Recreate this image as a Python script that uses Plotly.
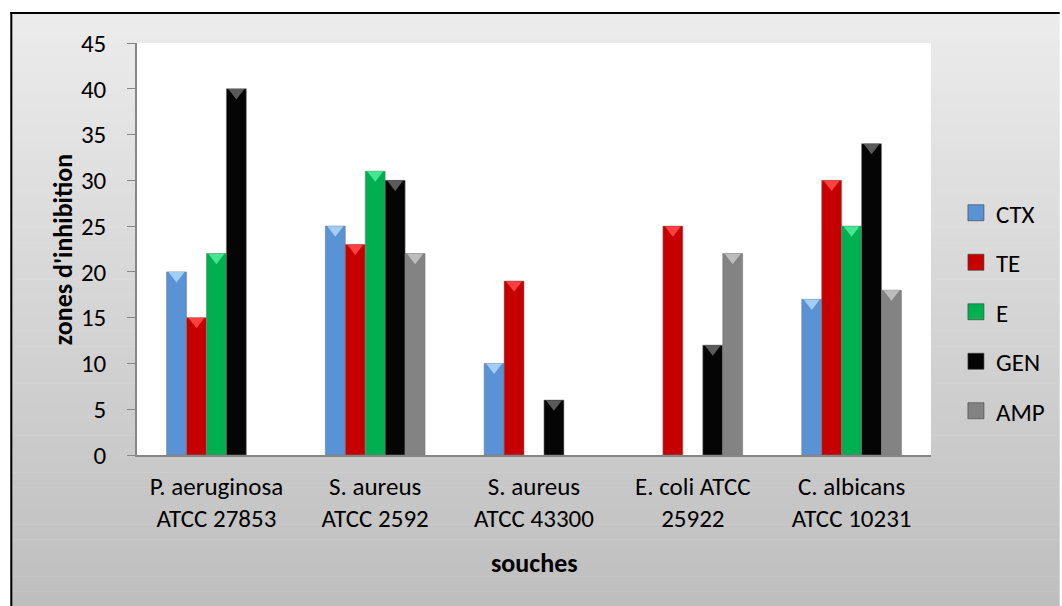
import plotly.graph_objects as go

# Données : diamètres des zones d'inhibition par souche et antibiotique
souches = [
    "P. aeruginosa<br>ATCC 27853",
    "S. aureus<br>ATCC 2592",
    "S. aureus<br>ATCC 43300",
    "E. coli ATCC<br>25922",
    "C. albicans<br>ATCC 10231",
]
ctx = [20, 25, 10, None, 17]
te = [15, 23, 19, 25, 30]
e = [22, 31, None, None, 25]
gen = [40, 30, 6, 12, 34]
amp = [None, 22, None, 22, 18]

antibiotiques = ["CTX", "TE", "E", "GEN", "AMP"]
series = [ctx, te, e, gen, amp]
y_ticks = [0, 5, 10, 15, 20, 25, 30, 35, 40, 45]

couleurs = ["#5a92d6", "#c60000", "#00b050", "#050505", "#838383"]
reflets = ["#a2cdf6", "#ff4040", "#46e592", "#5a5a5a", "#bdbdbd"]

W, H = 1062, 606
L, R, T, B = 137, 129, 43, 151
plot_w, plot_h = W - L - R, H - T - B
FONT = "Carlito, Calibri, Lato, sans-serif"
BAR_GAP = 0.372


def px_x(px):
    return (px - L) / plot_w


def px_y(py):
    return (H - B - py) / plot_h


fig = go.Figure()

# Barres groupées
for nom, vals, c in zip(antibiotiques, series, couleurs):
    fig.add_trace(go.Bar(
        x=souches, y=vals, name=nom, showlegend=False,
        marker=dict(color=c, line=dict(color="rgba(120,120,120,0.55)", width=1)),
        hoverinfo="skip",
    ))

# Biseau clair en haut de chaque barre
dip = 0.4
for nom, vals, c in zip(antibiotiques, series, reflets):
    fig.add_trace(go.Scatter(
        x=souches, y=[None if v is None else v - dip for v in vals],
        mode="markers", showlegend=False, hoverinfo="skip", cliponaxis=False,
        marker=dict(symbol="triangle-down", size=14, color=c, line=dict(width=0)),
    ))

# Entrées de légende (carrés)
for i, (nom, c) in enumerate(zip(antibiotiques, couleurs)):
    fig.add_trace(go.Scatter(
        x=[None], y=[None], name=nom, mode="markers", xaxis="x2", yaxis="y2",
        legendgroup=nom,
        marker=dict(symbol="square", size=16, color=c,
                    line=dict(color="rgba(60,60,60,0.6)", width=1)),
    ))

# Fond dégradé du graphique
shapes = []
top_px, n = 12, 80
for k in range(n):
    y0 = top_px + (H - top_px) * k / n
    y1 = top_px + (H - top_px) * (k + 1) / n
    t = (k + 0.5) / n
    g = round(236 - (236 - 190) * t)
    shapes.append(dict(type="rect", xref="paper", yref="paper", layer="below",
                       x0=px_x(10), x1=px_x(W), y0=px_y(y1 + 0.5), y1=px_y(y0),
                       fillcolor=f"rgb({g},{g},{g})", line=dict(width=0)))
# Zone de tracé blanche
shapes.append(dict(type="rect", xref="x domain", yref="y domain", layer="below",
                   x0=0, x1=1, y0=0, y1=1, fillcolor="white", line=dict(width=0)))
# Cadre
shapes.append(dict(type="line", xref="paper", yref="paper", x0=px_x(11), x1=px_x(11),
                   y0=px_y(12), y1=px_y(H), line=dict(color="black", width=2)))
shapes.append(dict(type="line", xref="paper", yref="paper", x0=px_x(10), x1=px_x(W),
                   y0=px_y(13), y1=px_y(13), line=dict(color="black", width=2)))

fig.update_layout(
    width=W, height=H,
    margin=dict(l=L, r=R, t=T, b=B, pad=0),
    paper_bgcolor="white", plot_bgcolor="white",
    barmode="group", bargap=BAR_GAP, bargroupgap=0,
    scattermode="group", scattergap=BAR_GAP,
    font=dict(family=FONT, size=25, color="black"),
    shapes=shapes,
    showlegend=True,
    legend=dict(x=px_x(958), xanchor="left", y=px_y(312), yanchor="middle",
                bgcolor="rgba(0,0,0,0)", font=dict(size=25, family=FONT),
                tracegroupgap=14, itemwidth=30),
    xaxis=dict(type="category", showgrid=False, showline=True, linecolor="#868686",
               linewidth=1.5, ticks="", ticklabelstandoff=8, zeroline=False,
               tickfont=dict(size=25)),
    yaxis=dict(range=[0, 45], tickvals=y_ticks, showgrid=False, showline=True,
               linecolor="#868686", linewidth=1.5, ticks="outside", ticklen=8,
               tickcolor="#868686", ticklabelstandoff=16, zeroline=False,
               tickfont=dict(size=25)),
    xaxis2=dict(overlaying="x", visible=False, range=[0, 1]),
    yaxis2=dict(overlaying="y", visible=False, range=[0, 1]),
    annotations=[
        dict(text="<b>zones d'inhibition</b>", textangle=-90, xref="paper", yref="paper",
             x=px_x(63), y=px_y(250), showarrow=False, font=dict(size=26, family=FONT),
             xanchor="center", yanchor="middle"),
        dict(text="<b>souches</b>", xref="paper", yref="paper",
             x=px_x(535), y=px_y(563), showarrow=False, font=dict(size=26, family=FONT),
             xanchor="center", yanchor="middle"),
    ],
)

fig.write_html("out.html")
